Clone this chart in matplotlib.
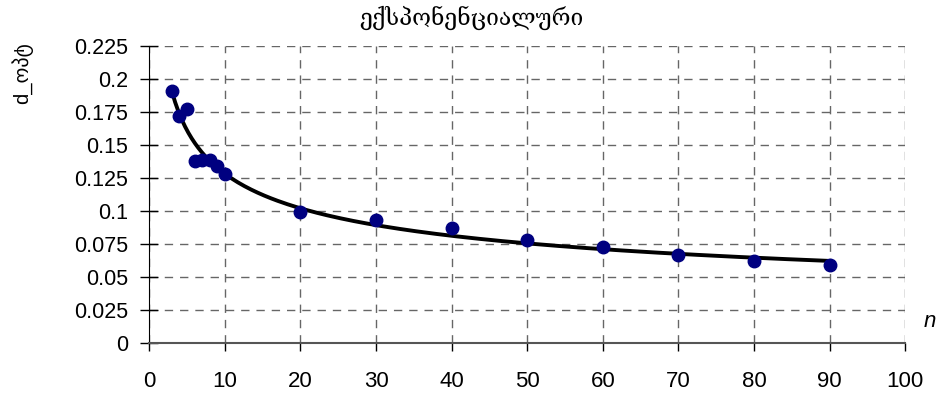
import numpy as np
import matplotlib.pyplot as plt

# observed points
n_vals = [3, 4, 5, 6, 7, 8, 9, 10, 20, 30, 40, 50, 60, 70, 80, 90]
d_opt = [0.191, 0.172, 0.177, 0.138, 0.139, 0.139, 0.134, 0.128,
         0.099, 0.093, 0.087, 0.078, 0.073, 0.067, 0.062, 0.059]

x_ticks = [0, 10, 20, 30, 40, 50, 60, 70, 80, 90, 100]
y_ticks = [0, 0.025, 0.05, 0.075, 0.1, 0.125, 0.15, 0.175, 0.2, 0.225]
y_tick_labels = ["0", "0.025", "0.05", "0.075", "0.1", "0.125", "0.15", "0.175", "0.2", "0.225"]

plt.rcParams['font.family'] = ['Liberation Sans', 'DejaVu Sans']

fig = plt.figure(figsize=(9.44, 3.97), dpi=100)
ax = fig.add_axes([0.158, 0.136, 0.801, 0.748])

# power trend line fitted to the points (log-log)
b, log_a = np.polyfit(np.log(n_vals), np.log(d_opt), 1)
xs = np.linspace(min(n_vals), max(n_vals), 200)
ax.plot(xs, np.exp(log_a) * xs ** b, color='black', lw=2.8, zorder=3)

ax.plot(n_vals, d_opt, 'o', color='#000080', ms=9, zorder=4)

ax.set_xlim(0, 100)
ax.set_ylim(0, 0.225)
ax.set_xticks(x_ticks)
ax.set_yticks(y_ticks)
ax.set_yticklabels(y_tick_labels)
ax.tick_params(axis='y', labelsize=15.5, length=13, width=1, direction='inout', pad=8.5, color='black')
ax.tick_params(axis='x', labelsize=16, length=6, width=1, direction='out', pad=14, color='black')
ax.grid(True, color='#666666', linestyle=(0, (6, 5)), lw=1)
ax.set_axisbelow(True)
for s in ['top', 'right']:
    ax.spines[s].set_visible(False)
ax.spines['left'].set_color('black')
ax.spines['bottom'].set_color('#555555')
ax.spines['bottom'].set_linewidth(1.5)

fig.text(0.499, 0.955, 'ექსპონენციალური', ha='center', va='center',
         fontsize=16.5, family=['DejaVu Serif', 'DejaVu Sans'])
fig.text(0.024, 0.815, 'd_ოპტ', rotation=90, ha='center', va='center',
         fontsize=14.5, family=['Liberation Sans', 'DejaVu Sans'])
fig.text(0.985, 0.19, 'n', ha='center', va='center', fontsize=16, style='italic')

fig.savefig('out.png', dpi=100)
